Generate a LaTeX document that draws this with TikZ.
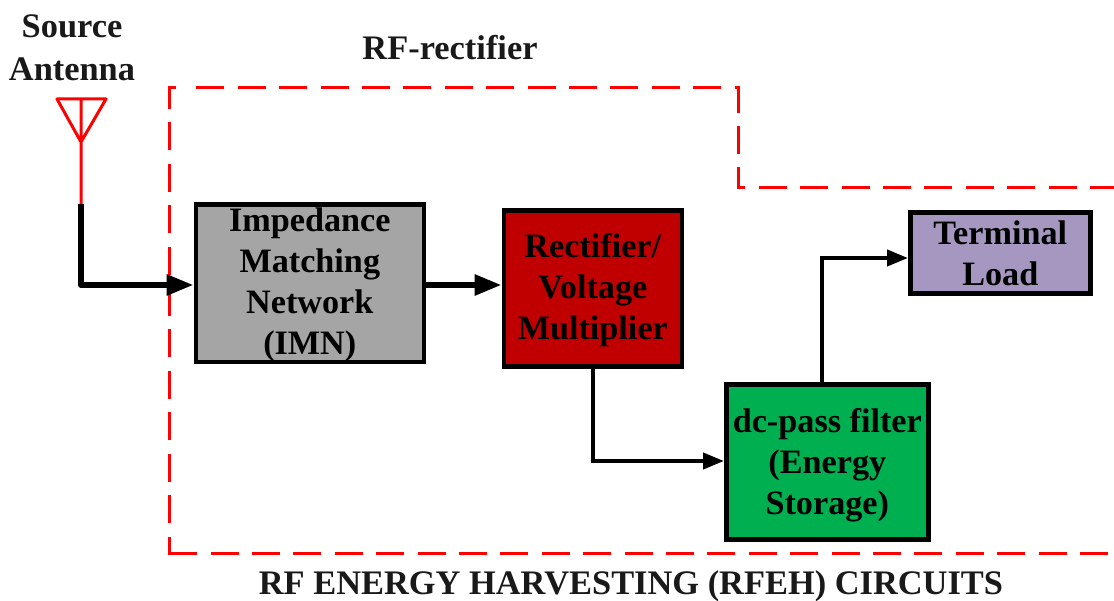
\documentclass[tikz,border=0pt]{standalone}
\usepackage{fontspec}
\setmainfont{Liberation Serif}
\usetikzlibrary{arrows.meta}
\definecolor{gb}{HTML}{A5A5A5}
\definecolor{rb}{HTML}{C00000}
\definecolor{gr}{HTML}{00B050}
\definecolor{pb}{HTML}{A597C0}
\newcommand{\firststrut}[1]{\rule{0pt}{#1pt}}
\begin{document}
\begin{tikzpicture}[x=1pt,y=-1pt,
 blockbox/.style={draw=black,line width=4.6pt,anchor=north west,inner sep=0pt,align=center,font=\fontsize{34.2}{41}\selectfont\bfseries},
 lab/.style={font=\fontsize{34.4}{42.5}\selectfont\bfseries,align=center,text=black!90},
 conn/.style={draw=black,line width=4pt,-{Triangle[length=21pt,width=16pt]}},
 thick conn/.style={draw=black,line width=6pt,-{Triangle[length=27pt,width=20pt]}},
 redline/.style={draw=red,line width=3pt},
 reddash/.style={redline,dash pattern=on 28pt off 13.4pt}]
\useasboundingbox (0,0) rectangle (1114,601);
\draw[reddash,dash phase=4pt] (1114,188) -- (738,188) -- (738,88) -- (190,88);
\draw[reddash] (1108,553) -- (169,553);
\draw[reddash,dash phase=10pt] (169,554.5) -- (169,88) -- (181,88);
\node[blockbox,fill=gb,minimum width=228pt,minimum height=156pt] (imn) at (193.5,202) {\firststrut{27.5}Impedance\\Matching\\Network\\(IMN)};
\node[blockbox,fill=rb,minimum width=178pt,minimum height=156pt] (rect) at (501.5,208) {\firststrut{27.5}Rectifier/\\Voltage\\Multiplier};
\node[blockbox,fill=gr,minimum width=202pt,minimum height=155pt] (dc) at (724,382) {\firststrut{31.5}dc-pass filter\\(Energy\\Storage)};
\node[blockbox,fill=pb,minimum width=180pt,minimum height=81pt] (load) at (908,210) {\firststrut{24.5}Terminal\\Load};
\node[lab] (src) at (72,48) {Source\\Antenna};
\node[lab] (rf) at (450,48) {RF-rectifier};
\node[lab] (title) at (631,586) {RF ENERGY HARVESTING (RFEH) CIRCUITS};
\coordinate (atop) at (81,98);
\coordinate (astem) at (81,204);
\draw[redline,line join=round] (astem) -- (atop) (57,99) -- (106,99) -- (81,142) -- cycle;
\draw[thick conn,line join=round] (astem) -- (81,285) -- (imn.west|-0,285);
\draw[thick conn] (imn.east|-0,285) -- (rect.west|-0,285);
\draw[conn] (rect.south-|593,0) -- (593,461) -- (dc.west|-0,461);
\draw[conn] (dc.north-|822,0) -- (822,258) -- (load.west|-0,258);
\end{tikzpicture}
\end{document}
